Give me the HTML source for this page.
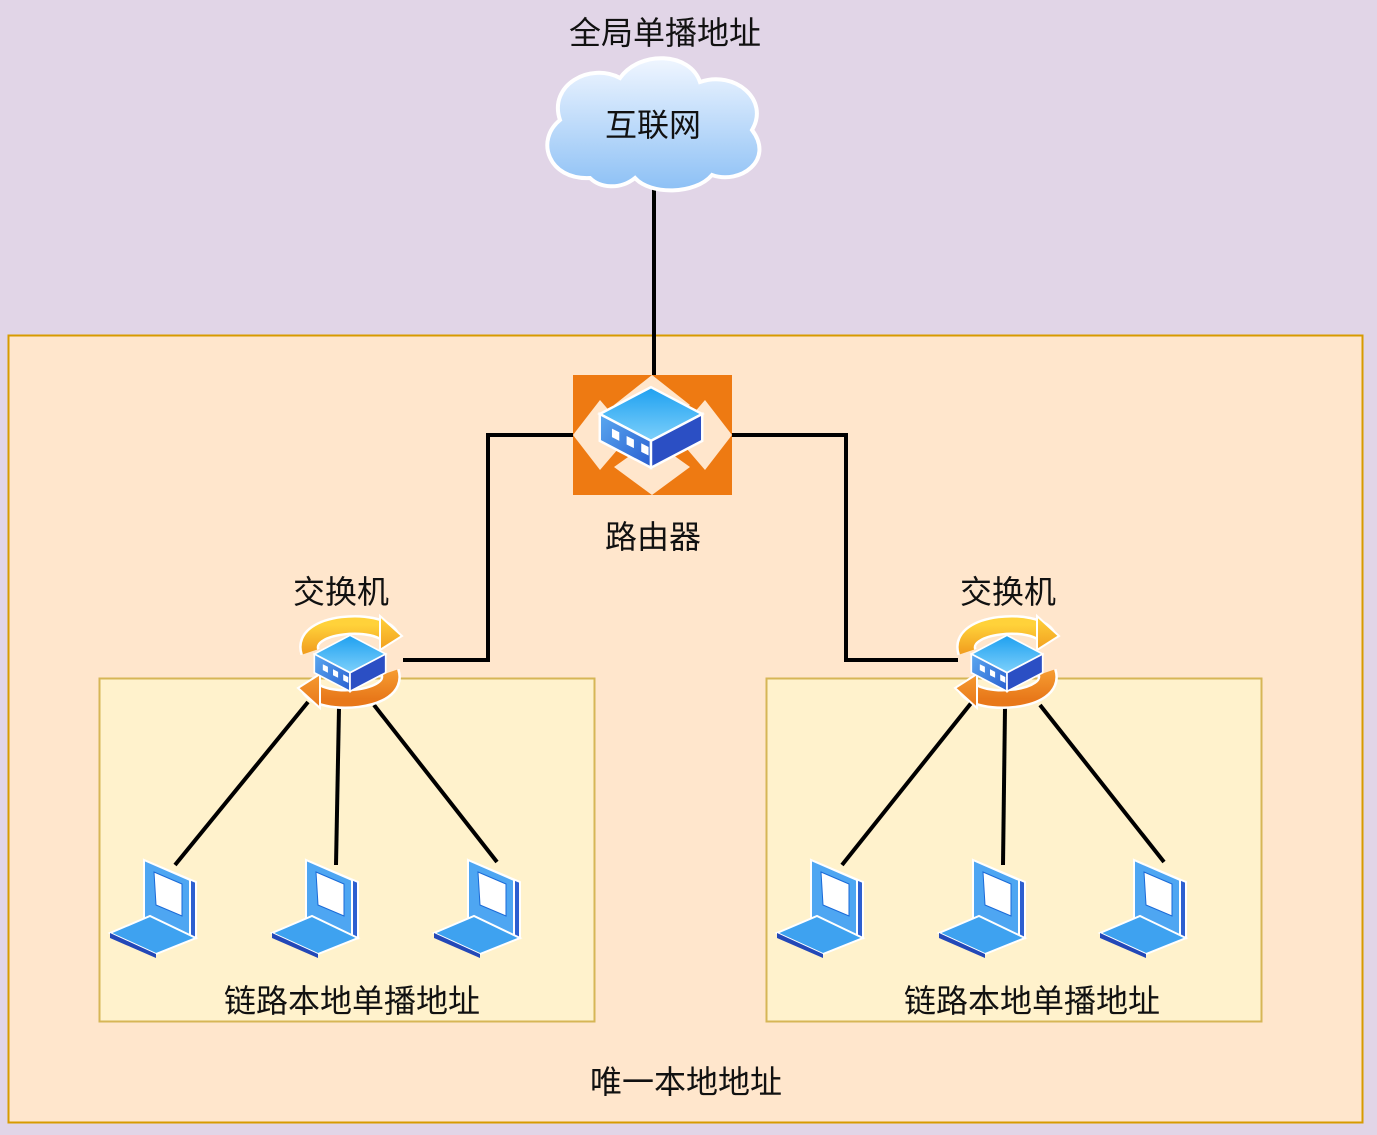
<!DOCTYPE html>
<html><head><meta charset="utf-8"><style>
html,body{margin:0;padding:0;}
body{width:1377px;height:1135px;background:#e1d5e7;position:relative;overflow:hidden;font-family:"Liberation Sans","Noto Sans CJK SC",sans-serif;}
svg{position:absolute;left:0;top:0;}
</style></head><body>
<svg width="1377" height="1135" viewBox="0 0 1377 1135" font-family="Liberation Sans, Noto Sans CJK SC, sans-serif">
<defs>
<linearGradient id="cg" x1="0" y1="0" x2="0" y2="1"><stop offset="0" stop-color="#f0f6ff"/><stop offset="1" stop-color="#8cc0f5"/></linearGradient>
<linearGradient id="top" x1="0" y1="0" x2="0" y2="1"><stop offset="0" stop-color="#1ea0f0"/><stop offset="1" stop-color="#7dd0fb"/></linearGradient>
<linearGradient id="side" x1="0" y1="0" x2="1" y2="1"><stop offset="0" stop-color="#5aa8f0"/><stop offset="1" stop-color="#2a5fd0"/></linearGradient>
<linearGradient id="og" x1="0" y1="0" x2="0" y2="1"><stop offset="0" stop-color="#ffd23a"/><stop offset="1" stop-color="#f2a020"/></linearGradient>
<linearGradient id="og2" x1="0" y1="0" x2="0" y2="1"><stop offset="0" stop-color="#f59a30"/><stop offset="1" stop-color="#e8781a"/></linearGradient>
<g id="box">
<polygon points="0,-22 42,0 0,22 -42,0" fill="url(#top)" stroke="#fff" stroke-width="2"/>
<polygon points="-42,0 0,22 0,44 -42,22" fill="url(#side)" stroke="#fff" stroke-width="2"/>
<polygon points="0,22 42,0 42,22 0,44" fill="#2b4fc4" stroke="#fff" stroke-width="2"/>
<polygon points="-32,12 -26,15 -26,22 -32,19" fill="#fff"/>
<polygon points="-20,18 -14,21 -14,28 -20,25" fill="#fff"/>
<polygon points="-8,24 -2,27 -2,34 -8,31" fill="#fff"/>
</g>
<g id="laptop">
<polygon points="34,2 86,24 86,80 40,64" fill="#2d5fd0" stroke="#fff" stroke-width="2"/>
<polygon points="34,2 80,22 80,78 34,60" fill="#4ea6f2" stroke="#fff" stroke-width="2"/>
<polygon points="44,14 72,26 72,58 46,47" fill="#fff" stroke="#1a6ad8" stroke-width="1"/>
<polygon points="0,75 40,58 86,80 46,96" fill="#3ea2f0" stroke="#fff" stroke-width="2"/>
<polygon points="0,75 46,96 46,100 0,80" fill="#2348b8"/>
</g>
<g id="switch">
<path d="M -40,-10 C -50,-40 30,-45 40,-25" fill="none" stroke="#fff" stroke-width="20"/>
<path d="M -40,-10 C -50,-40 30,-45 40,-25" fill="none" stroke="url(#og)" stroke-width="15"/>
<polygon points="30,-46 52,-26 30,-12" fill="url(#og)" stroke="#fff" stroke-width="2"/>
<path d="M 40,10 C 50,40 -30,45 -40,25" fill="none" stroke="#fff" stroke-width="20"/>
<path d="M 40,10 C 50,40 -30,45 -40,25" fill="none" stroke="url(#og2)" stroke-width="15"/>
<polygon points="-30,46 -52,26 -30,12" fill="url(#og2)" stroke="#fff" stroke-width="2"/>
<g transform="translate(0,-8) scale(0.85)"><use href="#box"/></g>
</g>
</defs>

<rect x="8.5" y="335.5" width="1354" height="787" fill="#ffe6cc" stroke="#d79b00" stroke-width="2"/>
<rect x="99.5" y="678.5" width="495" height="343" fill="#fff2cc" stroke="#d6b656" stroke-width="2"/>
<rect x="766.5" y="678.5" width="495" height="343" fill="#fff2cc" stroke="#d6b656" stroke-width="2"/>

<g stroke="#000" stroke-width="4" fill="none">
<line x1="654" y1="188" x2="654" y2="376"/>
<polyline points="573,435 488,435 488,660 403,660"/>
<polyline points="732,435 846,435 846,660 958,660"/>
<line x1="308" y1="702" x2="175" y2="865"/>
<line x1="339" y1="708" x2="336" y2="865"/>
<line x1="374" y1="705" x2="497" y2="862"/>
<line x1="972" y1="702" x2="842" y2="865"/>
<line x1="1005" y1="708" x2="1003" y2="865"/>
<line x1="1040" y1="705" x2="1164" y2="862"/>
</g>

<path d="M590,178 C548,180 535,140 560,120 C548,85 590,62 620,78 C640,50 690,52 700,82 C735,70 770,100 752,130 C775,160 740,185 712,175 C695,195 650,195 635,178 C620,190 600,188 590,178 Z" fill="url(#cg)" stroke="#fff" stroke-width="4"/>

<rect x="573" y="375" width="159" height="120" fill="#ee7a12"/>
<polygon points="652,375 690,405 652,435 614,405" fill="#ffe6cc"/>
<polygon points="652,440 690,467 652,495 614,467" fill="#ffe6cc"/>
<polygon points="573,435 600,400 630,435 600,470" fill="#ffe6cc"/>
<polygon points="732,435 705,400 675,435 705,470" fill="#ffe6cc"/>
<g transform="translate(651,414) scale(1.22)"><use href="#box"/></g>

<use href="#switch" transform="translate(350,662)"/>
<use href="#switch" transform="translate(1007,662)"/>

<use href="#laptop" transform="translate(110,858)"/>
<use href="#laptop" transform="translate(272,858)"/>
<use href="#laptop" transform="translate(434,858)"/>
<use href="#laptop" transform="translate(777,858)"/>
<use href="#laptop" transform="translate(939,858)"/>
<use href="#laptop" transform="translate(1100,858)"/>

<g font-size="32" fill="#111" text-anchor="middle">
<text x="665" y="44">全局单播地址</text>
<text x="653" y="136">互联网</text>
<text x="653" y="548">路由器</text>
<text x="341" y="603">交换机</text>
<text x="1008" y="603">交换机</text>
<text x="352" y="1012">链路本地单播地址</text>
<text x="1032" y="1012">链路本地单播地址</text>
<text x="686" y="1093">唯一本地地址</text>
</g>
</svg>
</body></html>
